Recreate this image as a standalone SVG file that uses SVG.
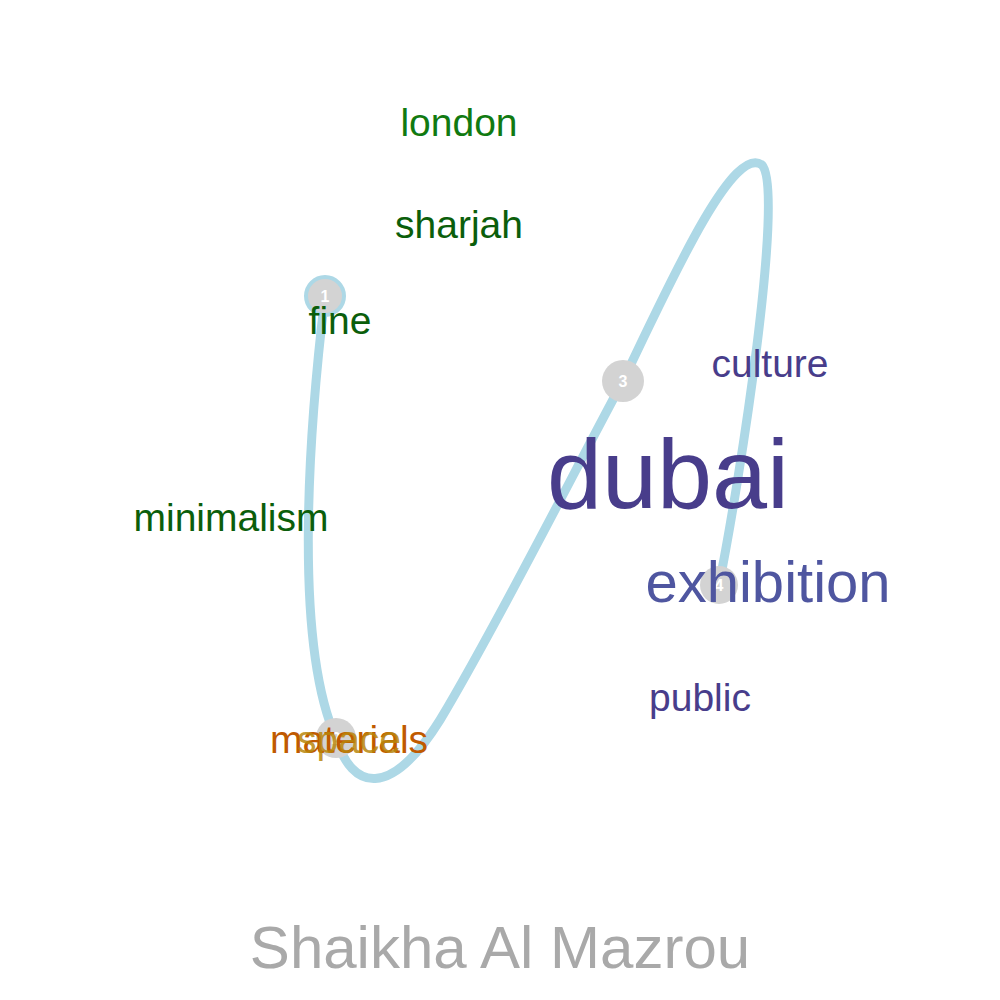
<svg xmlns="http://www.w3.org/2000/svg" width="1000" height="1000" viewBox="0 0 1000 1000">
<style>
.w{font-family:"Liberation Sans",Arial,sans-serif;text-anchor:middle}
.n{fill:#d3d3d3}
.nl{font-family:"Liberation Sans",Arial,sans-serif;font-size:16px;font-weight:bold;fill:#fff;text-anchor:middle}
</style>
<rect width="1000" height="1000" fill="#fff"/>
<g id="connectors">
<path d="M325,296 C310,420 292,640 336,738 C352,790 390,800 440,720 C500,620 580,460 623,381 C680,260 735,145 762,165 C785,190 740,480 719,585" fill="none" stroke="#add8e6" stroke-width="9" stroke-linecap="round"/>
</g>
<g id="node1"><circle cx="325" cy="296" r="19" class="n" stroke="#add8e6" stroke-width="4"/><text x="325" y="302" class="nl">1</text></g>
<g id="node2"><circle cx="336" cy="738" r="20" class="n"/><text x="336" y="744" class="nl">2</text></g>
<g id="node3"><circle cx="623" cy="381" r="21" class="n"/><text x="623" y="387" class="nl">3</text></g>
<g id="node4"><circle cx="719" cy="585" r="19" class="n"/><text x="719" y="591" class="nl">4</text></g>
<g id="words">
<text class="w" x="459" y="136" font-size="39" fill="#117a11">london</text>
<text class="w" x="459" y="238" font-size="39" fill="#0b5e0b">sharjah</text>
<text class="w" x="340" y="334" font-size="39" fill="#0b5e0b">fine</text>
<text class="w" x="231" y="531" font-size="39" fill="#0b5e0b">minimalism</text>
<text class="w" x="770" y="377" font-size="39" fill="#483d8b">culture</text>
<text class="w" x="668" y="508" font-size="99" fill="#483d8b">dubai</text>
<text class="w" x="768" y="602" font-size="58" fill="#4f56a0">exhibition</text>
<text class="w" x="700" y="711" font-size="39" fill="#483d8b">public</text>
<text class="w" x="349" y="753" font-size="39" fill="#c05a00">materials</text>
<text class="w" x="349" y="753" font-size="39" fill="#b8860b" fill-opacity="0.85">space</text>
</g>
<text class="w" x="500" y="968" font-size="60" fill="#a9a9a9">Shaikha Al Mazrou</text>
</svg>
